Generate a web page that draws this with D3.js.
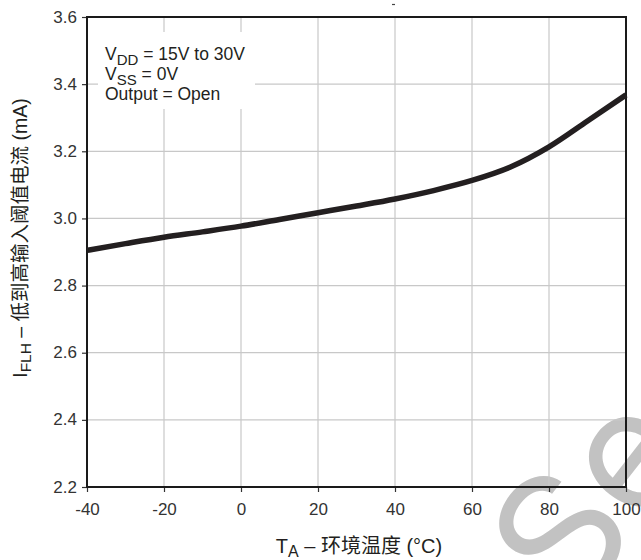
<!DOCTYPE html>
<html>
<head>
<meta charset="utf-8">
<script src="https://cdn.jsdelivr.net/npm/d3@7"></script>
<style>
  html, body { margin: 0; padding: 0; background: #fff; }
  svg { display: block; }
  text { font-family: "Liberation Sans", Arial, "Noto Sans CJK SC", sans-serif; }
</style>
</head>
<body>
<svg id="chart" width="641" height="560"></svg>
<script>
// Ambient temperature (°C) and low-to-high input threshold current (mA)
const temperatures = [-40, -30, -20, -10, 0, 10, 20, 30, 40, 50, 60, 70, 80, 90, 100];
const currents = [2.905, 2.925, 2.944, 2.96, 2.977, 2.997, 3.017, 3.037, 3.058, 3.083, 3.113, 3.153, 3.213, 3.29, 3.368];
const xTicks = [-40, -20, 0, 20, 40, 60, 80, 100];
const yTicks = [2.2, 2.4, 2.6, 2.8, 3.0, 3.2, 3.4, 3.6];
const conditions = [
  { main: "V", sub: "DD", rest: " = 15V to 30V" },
  { main: "V", sub: "SS", rest: " = 0V" },
  { main: "Output = Open", sub: "", rest: "" }
];

const svg = d3.select("#chart");
const m = { left: 87, right: 626, top: 17, bottom: 487 };

const x = d3.scaleLinear().domain([-40, 100]).range([m.left, m.right]);
const y = d3.scaleLinear().domain([2.2, 3.6]).range([m.bottom, m.top]);

// Watermark behind everything
svg.append("text")
  .attr("transform", "translate(574,614) rotate(-52)")
  .attr("font-size", 168)
  .attr("font-weight", 400)
  .attr("fill", "#c2c2c2")
  .style("font-family", "Inter, Roboto, sans-serif")
  .text("Se");

// Grid
const grid = svg.append("g");
grid.selectAll("line.v").data(xTicks.slice(1, -1)).join("line")
  .attr("x1", d => x(d)).attr("x2", d => x(d))
  .attr("y1", m.top).attr("y2", m.bottom)
  .attr("stroke", "#c8c8c8").attr("stroke-width", 1.2);
grid.selectAll("line.h").data(yTicks.slice(1, -1)).join("line")
  .attr("x1", m.left).attr("x2", m.right)
  .attr("y1", d => y(d)).attr("y2", d => y(d))
  .attr("stroke", "#c8c8c8").attr("stroke-width", 1.2);

// Background panel for the condition notes
svg.append("rect")
  .attr("x", 98).attr("y", 32).attr("width", 157).attr("height", 77)
  .attr("fill", "#fff");

// Axes with ticks outside; plain hyphen for negative values
const xAxis = d3.axisBottom(x).tickValues(xTicks).tickSize(5).tickFormat(d => String(d));
const yAxis = d3.axisLeft(y).tickValues(yTicks).tickSize(5).tickFormat(d3.format(".1f"));

const gx = svg.append("g").attr("transform", `translate(0,${m.bottom})`).call(xAxis);
const gy = svg.append("g").attr("transform", `translate(${m.left},0)`).call(yAxis);
[gx, gy].forEach(g => {
  g.select(".domain").remove();
  g.selectAll(".tick line").attr("stroke", "#333").attr("stroke-width", 1.2);
  g.selectAll(".tick text").attr("fill", "#333").attr("font-size", 17)
    .attr("font-family", "Liberation Sans, Arial, sans-serif");
});
gx.selectAll(".tick text").attr("dy", "1.15em");
gy.selectAll(".tick text").attr("x", -10).attr("dy", "0.3em");

// Frame
svg.append("rect")
  .attr("x", m.left).attr("y", m.top)
  .attr("width", m.right - m.left).attr("height", m.bottom - m.top)
  .attr("fill", "none").attr("stroke", "#1a1a1a").attr("stroke-width", 2);

// Curve
const line = d3.line()
  .x((d, i) => x(temperatures[i]))
  .y(d => y(d))
  .curve(d3.curveMonotoneX);
svg.append("path")
  .datum(currents)
  .attr("d", line)
  .attr("fill", "none")
  .attr("stroke", "#231f20")
  .attr("stroke-width", 5.5)
  .attr("stroke-linecap", "butt");

// Condition notes
const notes = svg.append("g").attr("fill", "#231f20").attr("font-size", 17.5);
conditions.forEach((c, i) => {
  const t = notes.append("text").attr("x", 105).attr("y", 60 + i * 20);
  t.append("tspan").text(c.main);
  if (c.sub) {
    t.append("tspan").attr("font-size", 15).attr("dy", 5).text(c.sub);
    t.append("tspan").attr("dy", -5).text(c.rest);
  }
});

// Axis titles
const xt = svg.append("text")
  .attr("x", 359).attr("y", 553)
  .attr("text-anchor", "middle")
  .attr("font-size", 20).attr("fill", "#231f20");
xt.append("tspan").text("T");
xt.append("tspan").attr("font-size", 16).attr("dy", 4).text("A");
xt.append("tspan").attr("dy", -4).text(" – 环境温度 (°C)");

const yt = svg.append("text")
  .attr("transform", "translate(27,238) rotate(-90)")
  .attr("text-anchor", "middle")
  .attr("font-size", 19.5).attr("fill", "#231f20");
yt.append("tspan").text("I");
yt.append("tspan").attr("font-size", 15.5).attr("dy", 4).text("FLH");
yt.append("tspan").attr("dy", -4).text(" – 低到高输入阈值电流 (mA)");

// Small stray mark above the frame
svg.append("line")
  .attr("x1", 392).attr("x2", 395).attr("y1", 4.5).attr("y2", 4.5)
  .attr("stroke", "#444").attr("stroke-width", 1.2);
</script>
</body>
</html>
